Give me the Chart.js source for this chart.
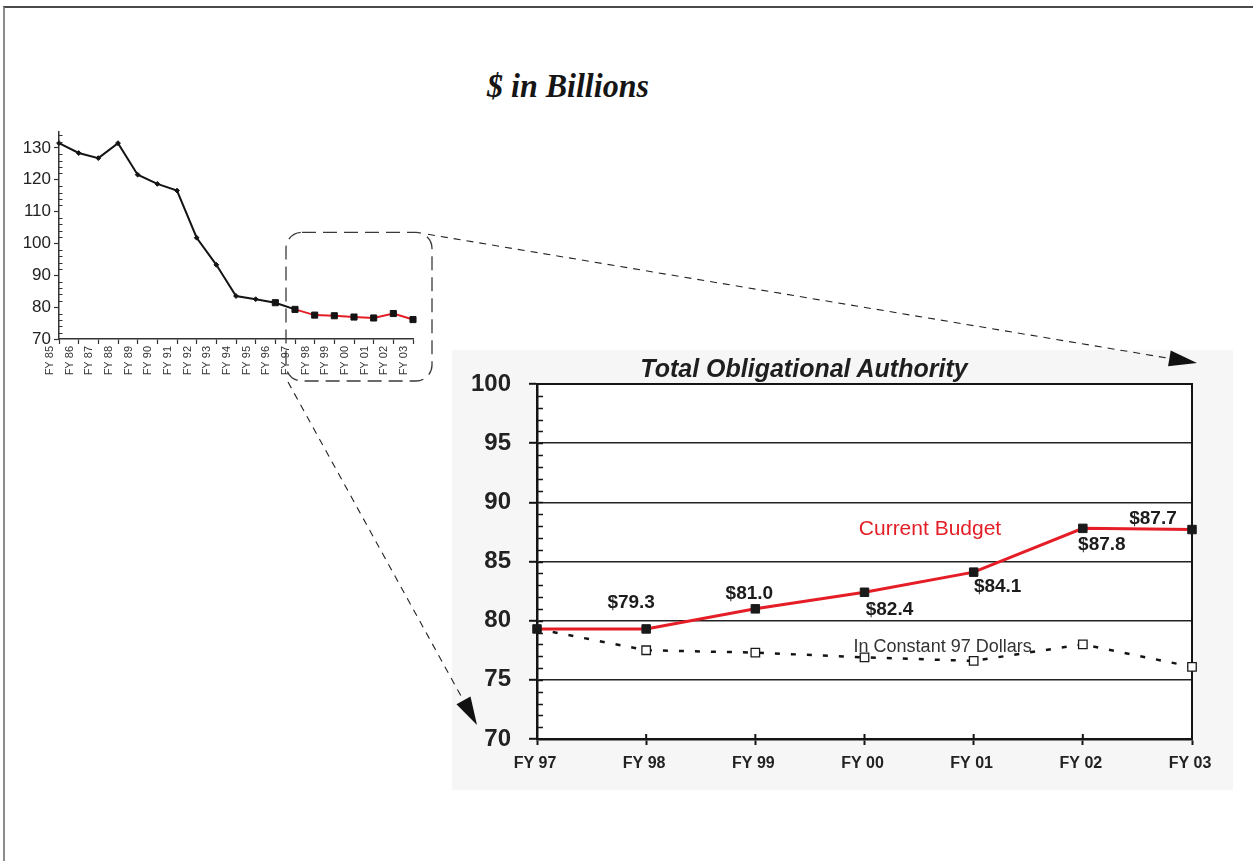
<!DOCTYPE html>
<html>
<head>
<meta charset="utf-8">
<script src="https://cdn.jsdelivr.net/npm/chart.js@4.4.1/dist/chart.umd.min.js"></script>
<style>
  html, body { margin: 0; padding: 0; background: #fff; }
  body { width: 1253px; height: 861px; position: relative; overflow: hidden; }
  #frame { position: absolute; left: 3px; top: 6px; width: 1270px; height: 880px;
           border-top: 2px solid #4a4a4a; border-left: 2px solid #8c8c8c; }
  #units { position: absolute; left: 487px; top: 68px; line-height: 33px;
           font: italic bold 33px "Liberation Serif", "Times New Roman", serif; color: #151515; white-space: nowrap;
           transform: scaleX(0.97); transform-origin: left top; }
  #toaTitle { position: absolute; left: 604px; width: 400px; top: 354px; line-height: 25px; text-align: center;
              font: italic bold 25px "Liberation Sans", Arial, sans-serif; color: #1e1e1e; white-space: nowrap; }
  canvas { position: absolute; left: 0; top: 0; }
</style>
</head>
<body>
<div id="frame"></div>
<div id="units">$ in Billions</div>
<canvas id="hist" width="1253" height="861"></canvas>
<canvas id="toa" width="1253" height="861"></canvas>
<div id="toaTitle">Total Obligational Authority</div>
<script>
// Fiscal years of the close-up chart
const years = ['FY 97', 'FY 98', 'FY 99', 'FY 00', 'FY 01', 'FY 02', 'FY 03'];
// Total Obligational Authority, current budget dollars ($B)
const currentBudget = [79.3, 79.3, 81.0, 82.4, 84.1, 87.8, 87.7];
// Same, in constant FY97 dollars ($B)
const constant97 = [79.3, 77.5, 77.3, 76.9, 76.6, 78.0, 76.1];
// Earlier history, FY85 - FY96 ($B)
const histYears = ['FY 85', 'FY 86', 'FY 87', 'FY 88', 'FY 89', 'FY 90', 'FY 91', 'FY 92', 'FY 93', 'FY 94', 'FY 95', 'FY 96'];
const histValues = [131.5, 128.4, 126.8, 131.5, 121.6, 118.7, 116.6, 101.8, 93.3, 83.5, 82.5, 81.4];
// Axis ranges / labelled ticks
const histTicks = [70, 80, 90, 100, 110, 120, 130];
const bigTicks = [70, 75, 80, 85, 90, 95, 100];

const RED = '#e41d26';
const INK = '#141414';
Chart.defaults.font.family = '"Liberation Sans", Arial, sans-serif';
Chart.defaults.animation = false;

// ---------- small history chart ----------
const histLabels = histYears.concat(years);
const histSeries = histValues.concat(constant97);
const firstRed = histYears.length;           // FY97 starts the red segment
const firstSquare = histYears.length - 1;    // FY96 onward drawn with squares

const histMinorTicks = {
  id: 'histMinorTicks',
  afterDraw(chart) {
    const ctx = chart.ctx, y = chart.scales.y, left = chart.chartArea.left;
    ctx.save();
    ctx.strokeStyle = '#333';
    ctx.lineWidth = 1;
    for (let v = y.min + 2; v < y.max; v += 2) {
      if (v % 10 === 0) continue;
      const py = Math.round(y.getPixelForValue(v)) + 0.5;
      ctx.beginPath(); ctx.moveTo(left, py); ctx.lineTo(left + 3.5, py); ctx.stroke();
    }
    ctx.restore();
  }
};

const hist = new Chart(document.getElementById('hist'), {
  type: 'line',
  data: {
    labels: histLabels,
    datasets: [{
      data: histSeries,
      borderColor: INK,
      borderWidth: 2,
      tension: 0,
      segment: { borderColor: c => c.p0DataIndex >= firstRed ? RED : INK },
      pointStyle: histSeries.map((_, i) => i >= firstSquare ? 'rect' : 'rectRot'),
      pointRadius: histSeries.map((_, i) => i >= firstSquare ? 4.3 : 2.4),
      pointBackgroundColor: INK,
      pointBorderColor: INK,
      pointBorderWidth: 1,
      clip: false
    }]
  },
  options: {
    responsive: false,
    devicePixelRatio: 1,
    layout: { padding: { left: 0, top: 132, right: 840, bottom: 471 } },
    plugins: { legend: { display: false }, tooltip: { enabled: false }, title: { display: false } },
    scales: {
      x: {
        type: 'category',
        offset: false,
        grid: { drawOnChartArea: false, tickLength: 5, tickColor: '#333', tickWidth: 1.2 },
        border: { display: true, color: '#333', width: 1.5 },
        ticks: { autoSkip: false, minRotation: 90, maxRotation: 90, padding: 2, labelOffset: -9,
                 color: '#333', font: { size: 11 } },
        afterFit: s => { s.height = 51; }
      },
      y: {
        min: 70, max: 135,
        afterBuildTicks: s => { s.ticks = histTicks.map(v => ({ value: v })); },
        grid: { drawOnChartArea: false, tickLength: 5, tickColor: '#333', tickWidth: 1.2 },
        border: { display: true, color: '#333', width: 1.5 },
        ticks: { padding: 3, color: '#222', font: { size: 17 } },
        afterFit: s => { s.width = 59; }
      }
    }
  },
  plugins: [histMinorTicks]
});

// ---------- close-up chart ----------
const labelPlacement = [null, [-15, -26], [-6, -15], [25, 17], [24, 15], [19, 16], [-39, -11]];

const toaDecor = {
  id: 'toaDecor',
  beforeDraw(chart) {
    const ctx = chart.ctx, a = chart.chartArea;
    ctx.save();
    ctx.fillStyle = '#f6f6f6';
    ctx.fillRect(a.left - 85, a.top - 34, 781, 440);
    ctx.fillStyle = '#ffffff';
    ctx.fillRect(a.left, a.top, a.right - a.left, a.bottom - a.top);
    ctx.restore();
  },
  beforeDatasetsDraw(chart) {
    const ctx = chart.ctx, a = chart.chartArea, x = chart.scales.x, y = chart.scales.y;
    ctx.save();
    ctx.strokeStyle = INK;
    // frame on top and right
    ctx.lineWidth = 2;
    ctx.beginPath();
    ctx.moveTo(a.left, a.top); ctx.lineTo(a.right, a.top); ctx.lineTo(a.right, a.bottom);
    ctx.stroke();
    // minor ticks inside the value axis
    ctx.lineWidth = 1.5;
    for (let v = y.min + 1; v < y.max; v++) {
      const py = Math.round(y.getPixelForValue(v)) + 0.5;
      ctx.beginPath(); ctx.moveTo(a.left, py); ctx.lineTo(a.left + 6, py); ctx.stroke();
    }
    // category ticks cross the baseline
    ctx.lineWidth = 2;
    x.ticks.forEach((_, i) => {
      const px = x.getPixelForTick(i);
      ctx.beginPath(); ctx.moveTo(px, a.bottom - 5); ctx.lineTo(px, a.bottom); ctx.stroke();
    });
    ctx.restore();
  },
  afterDatasetsDraw(chart) {
    const ctx = chart.ctx, x = chart.scales.x, y = chart.scales.y;
    const pts = chart.getDatasetMeta(0).data;
    ctx.save();
    ctx.textAlign = 'center';
    ctx.textBaseline = 'middle';
    ctx.fillStyle = '#1c1c1c';
    ctx.font = 'bold 19px "Liberation Sans", Arial, sans-serif';
    currentBudget.forEach((v, i) => {
      const off = labelPlacement[i];
      if (!off) return;
      ctx.fillText('$' + v.toFixed(1), pts[i].x + off[0], pts[i].y + off[1]);
    });
    ctx.fillStyle = RED;
    ctx.font = '21px "Liberation Sans", Arial, sans-serif';
    ctx.fillText('Current Budget', x.getPixelForValue(3.6), y.getPixelForValue(87.75));
    ctx.fillStyle = '#333';
    ctx.textAlign = 'left';
    ctx.font = '18px "Liberation Sans", Arial, sans-serif';
    ctx.fillText('In Constant 97 Dollars', x.getPixelForValue(2.9), y.getPixelForValue(77.73));
    ctx.restore();
  },
  afterDraw(chart) {
    // callout: dashed box round FY97-FY03 of the history chart, with arrows to the close-up
    const ctx = chart.ctx, a = chart.chartArea;
    const hx = hist.scales.x, hy = hist.scales.y;
    const bl = hx.getPixelForValue(firstRed) - 9;
    const br = hx.getPixelForValue(histLabels.length - 1) + 19;
    const bt = hy.getPixelForValue(103.5);
    const bb = hist.chartArea.bottom + 42;
    ctx.save();
    ctx.strokeStyle = '#3a3a3a';
    ctx.lineWidth = 1.3;
    ctx.setLineDash([14, 7]);
    ctx.beginPath();
    ctx.roundRect(bl, bt, br - bl, bb - bt, 16);
    ctx.stroke();

    const arrow = (x0, y0, x1, y1) => {
      const ang = Math.atan2(y1 - y0, x1 - x0), len = 28, hw = 8;
      const bx = x1 - len * Math.cos(ang), by = y1 - len * Math.sin(ang);
      ctx.strokeStyle = '#222';
      ctx.lineWidth = 1.1;
      ctx.setLineDash([7, 6]);
      ctx.beginPath(); ctx.moveTo(x0, y0); ctx.lineTo(bx, by); ctx.stroke();
      ctx.setLineDash([]);
      ctx.fillStyle = '#111';
      ctx.beginPath();
      ctx.moveTo(x1, y1);
      ctx.lineTo(bx + hw * Math.sin(ang), by - hw * Math.cos(ang));
      ctx.lineTo(bx - hw * Math.sin(ang), by + hw * Math.cos(ang));
      ctx.closePath();
      ctx.fill();
    };
    arrow(br - 4, bt + 2, a.right + 5, a.top - 21);
    arrow(bl + 2, bb + 1, a.left - 60, a.bottom - 14);
    ctx.restore();
  }
};

new Chart(document.getElementById('toa'), {
  type: 'line',
  data: {
    labels: years,
    datasets: [
      {
        label: 'Current Budget',
        data: currentBudget,
        order: 0,
        borderColor: RED,
        borderWidth: 3,
        tension: 0,
        pointStyle: 'rect',
        pointRadius: 6,
        pointBackgroundColor: '#1a1a1a',
        pointBorderColor: '#1a1a1a',
        pointBorderWidth: 1,
        clip: false
      },
      {
        label: 'In Constant 97 Dollars',
        data: constant97,
        order: 1,
        borderColor: INK,
        borderWidth: 2.5,
        borderDash: [5, 11],
        tension: 0,
        pointStyle: 'rect',
        pointRadius: constant97.map((_, i) => i === 0 ? 0 : 6),
        pointBackgroundColor: '#ffffff',
        pointBorderColor: '#1a1a1a',
        pointBorderWidth: 1.3,
        clip: false
      }
    ]
  },
  options: {
    responsive: false,
    devicePixelRatio: 1,
    layout: { padding: { left: 452, top: 384, right: 61, bottom: 71 } },
    plugins: { legend: { display: false }, tooltip: { enabled: false }, title: { display: false } },
    scales: {
      x: {
        type: 'category',
        offset: false,
        grid: { drawOnChartArea: false, tickLength: 6, tickColor: INK, tickWidth: 2 },
        border: { display: true, color: INK, width: 2.5 },
        ticks: { autoSkip: false, maxRotation: 0, padding: 9, labelOffset: -2, color: '#222',
                 font: { size: 16, weight: 'bold' } },
        afterFit: s => { s.height = 51; }
      },
      y: {
        min: 70, max: 100,
        afterBuildTicks: s => { s.ticks = bigTicks.map(v => ({ value: v })); },
        grid: {
          color: c => (c.tick && c.tick.value > 70 && c.tick.value < 100) ? '#222' : 'rgba(0,0,0,0)',
          lineWidth: 1.6,
          tickLength: 8, tickColor: INK, tickWidth: 2
        },
        border: { display: true, color: INK, width: 2.5 },
        ticks: { padding: 18, color: '#222', font: { size: 24, weight: 'bold' } },
        afterFit: s => { s.width = 85; }
      }
    }
  },
  plugins: [toaDecor]
});
</script>
</body>
</html>
